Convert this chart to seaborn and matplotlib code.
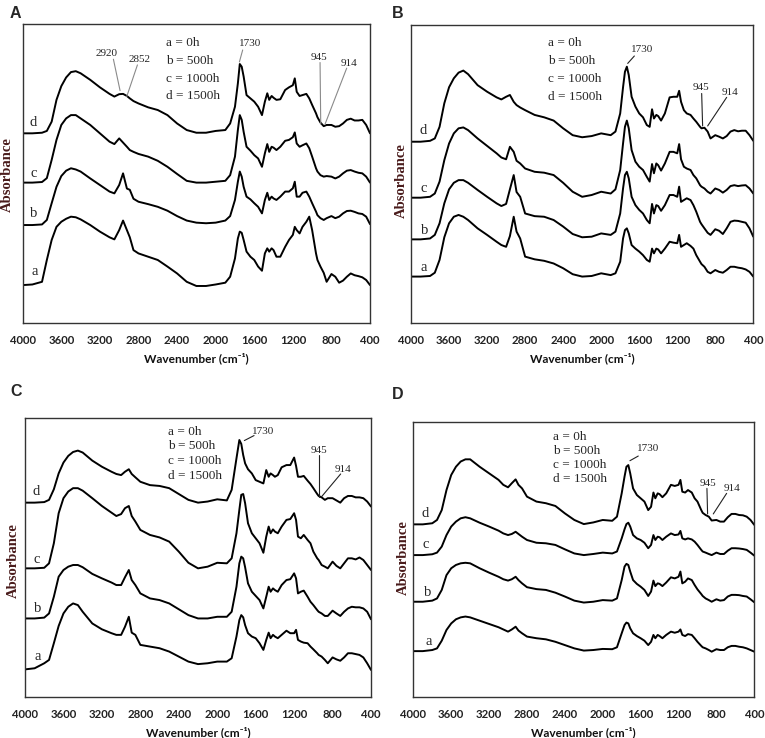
import pandas as pd
import matplotlib
matplotlib.use("Agg")
import matplotlib.pyplot as plt
import seaborn as sns

# shared wavenumber grid (cm-1), 4000 -> 400
WAVENUMBER = [4000, 3900, 3800, 3750, 3700, 3650, 3600, 3550, 3500, 3450,
              3400, 3300, 3200, 3100, 3050, 3000, 2960, 2920, 2890, 2852,
              2800, 2700, 2600, 2500, 2400, 2300, 2200, 2100, 2000, 1900,
              1850, 1800, 1770, 1750, 1730, 1710, 1680, 1640, 1600, 1560,
              1520, 1490, 1465, 1445, 1420, 1400, 1370, 1330, 1280, 1240,
              1200, 1180, 1160, 1130, 1100, 1060, 1030, 1000, 960, 945,
              914, 880, 850, 800, 760, 720, 680, 640, 600, 560,
              520, 480, 440, 400]

SAMPLES = ["a", "b", "c", "d"]
LEGEND_LINES = ["a = 0h", "b = 500h", "c = 1000h", "d = 1500h"]
PANELS = ["A", "B", "C", "D"]

# stacked absorbance (arbitrary units, offsets included)
A_a = [12.6, 12.8, 13.7, 21.0, 27.7, 32.1, 33.8, 34.8, 35.5, 35.3,
       34.6, 32.7, 30.5, 28.6, 27.9, 31.0, 34.2, 31.0, 28.6, 24.3,
       23.2, 22.1, 21.0, 18.8, 16.5, 13.7, 12.3, 12.3, 12.8, 13.4,
       15.4, 21.5, 28.2, 30.5, 30.1, 27.7, 23.8, 22.1, 21.0, 18.8,
       17.4, 23.2, 24.9, 23.8, 24.9, 24.3, 22.1, 22.1, 25.4, 27.7,
       29.4, 32.1, 31.0, 29.9, 32.1, 33.8, 35.5, 31.0, 23.2, 21.0,
       18.8, 16.7, 13.7, 16.3, 15.4, 13.4, 14.1, 15.4, 16.5, 15.9,
       15.6, 15.2, 14.3, 12.6]
A_b = [32.7, 32.7, 32.9, 34.4, 40.0, 45.5, 49.1, 50.9, 51.7, 51.3,
       50.6, 48.3, 46.1, 43.9, 43.3, 46.1, 50.0, 44.9, 44.5, 41.5,
       40.5, 39.7, 38.8, 37.5, 35.7, 34.2, 33.5, 33.3, 33.5, 34.2,
       35.7, 41.1, 47.2, 50.6, 48.9, 45.5, 42.2, 41.3, 40.0, 38.8,
       36.6, 41.1, 43.5, 41.1, 42.2, 41.6, 41.1, 42.2, 43.9, 43.9,
       45.0, 47.2, 42.2, 42.2, 43.5, 43.9, 42.2, 40.0, 37.2, 36.0,
       35.0, 34.4, 35.0, 35.7, 35.0, 35.5, 36.6, 37.4, 37.5, 37.1,
       36.6, 36.4, 35.5, 33.0]
A_c = [46.9, 46.9, 47.1, 48.4, 54.5, 61.2, 66.2, 68.4, 69.5, 69.5,
       68.4, 66.2, 63.4, 60.6, 59.8, 61.7, 60.3, 58.9, 57.8, 57.2,
       56.5, 55.6, 54.2, 52.2, 49.8, 47.5, 46.9, 46.9, 47.2, 47.5,
       49.4, 55.6, 64.5, 69.5, 67.9, 63.9, 58.9, 57.6, 56.1, 55.0,
       52.2, 56.7, 59.8, 57.2, 58.9, 58.6, 57.8, 58.9, 60.9, 61.2,
       62.1, 63.7, 60.0, 58.9, 59.4, 60.0, 58.4, 55.6, 51.7, 50.6,
       49.4, 48.9, 49.1, 48.9, 48.3, 48.9, 50.0, 50.9, 51.1, 50.6,
       50.2, 50.0, 48.9, 46.9]
A_d = [63.4, 63.4, 63.6, 64.2, 67.3, 74.6, 79.2, 82.1, 83.9, 84.2,
       83.5, 81.3, 78.8, 76.6, 75.7, 76.5, 76.6, 75.9, 75.1, 74.2,
       73.4, 72.1, 71.2, 69.5, 66.7, 64.5, 63.6, 63.6, 64.2, 64.5,
       66.7, 72.3, 80.1, 86.6, 85.7, 82.4, 76.2, 75.1, 74.0, 72.3,
       69.5, 74.0, 76.8, 74.6, 75.9, 75.3, 74.6, 74.8, 77.9, 78.8,
       79.5, 81.8, 77.3, 75.9, 76.2, 76.6, 75.1, 72.9, 70.1, 68.8,
       67.0, 65.8, 66.2, 66.2, 65.6, 65.8, 66.7, 67.9, 68.3, 67.7,
       67.7, 67.9, 66.2, 63.4]

B_a = [15.5, 15.5, 15.7, 16.8, 21.1, 28.7, 33.4, 35.6, 36.2, 35.6,
       34.5, 31.7, 29.5, 27.2, 26.1, 25.5, 29.1, 35.6, 30.6, 28.3,
       22.2, 21.3, 20.8, 19.9, 18.3, 16.3, 15.5, 15.7, 16.6, 16.0,
       16.6, 20.5, 28.3, 31.1, 31.7, 30.0, 26.1, 24.9, 23.9, 22.7,
       21.1, 20.5, 24.9, 23.3, 24.9, 24.6, 23.3, 24.9, 27.2, 26.9,
       26.7, 29.5, 25.5, 26.1, 26.7, 25.8, 24.9, 22.7, 20.5, 19.7,
       18.8, 17.1, 16.6, 17.7, 17.1, 16.8, 17.7, 18.8, 18.8, 18.5,
       18.3, 17.9, 17.1, 15.5]
B_b = [28.0, 28.0, 28.3, 29.5, 33.4, 40.1, 44.8, 47.0, 47.9, 47.9,
       47.0, 44.6, 42.3, 40.1, 39.2, 39.9, 44.8, 49.6, 43.9, 42.3,
       36.7, 35.8, 35.6, 34.5, 32.3, 29.8, 28.7, 28.9, 30.0, 29.5,
       30.6, 36.7, 45.1, 49.6, 50.7, 48.5, 42.3, 39.5, 37.9, 36.7,
       34.5, 33.4, 39.9, 36.7, 39.5, 39.2, 37.6, 39.5, 42.9, 42.9,
       42.3, 45.7, 40.6, 41.2, 41.8, 41.2, 39.5, 37.3, 33.9, 33.1,
       31.7, 30.2, 29.5, 31.4, 30.9, 29.8, 31.7, 33.9, 34.3, 34.2,
       33.9, 33.6, 31.7, 28.9]
B_c = [42.0, 42.0, 42.3, 43.4, 47.4, 54.6, 60.2, 63.6, 65.3, 65.6,
       64.7, 61.9, 59.4, 56.9, 55.5, 54.9, 59.1, 57.4, 54.4, 53.5,
       51.8, 50.7, 50.4, 49.6, 47.0, 44.0, 42.3, 42.9, 44.0, 43.4,
       44.8, 51.3, 60.2, 65.8, 67.9, 65.3, 58.0, 54.1, 52.4, 51.3,
       49.0, 47.4, 53.3, 50.2, 53.5, 52.9, 51.1, 53.5, 57.4, 57.4,
       56.9, 60.0, 54.9, 52.4, 51.8, 51.3, 49.6, 48.5, 46.2, 45.7,
       45.1, 44.0, 43.4, 45.1, 44.6, 43.7, 44.6, 45.9, 46.2, 45.9,
       46.1, 46.2, 45.1, 43.4]
B_d = [60.8, 60.8, 61.1, 61.9, 65.8, 73.7, 79.1, 82.1, 84.0, 84.7,
       83.5, 79.8, 77.6, 75.7, 75.0, 75.9, 76.5, 74.2, 73.1, 72.3,
       71.4, 69.8, 69.0, 67.9, 65.3, 63.0, 62.3, 62.7, 63.6, 63.0,
       64.2, 70.3, 79.1, 84.3, 86.0, 83.2, 75.9, 72.6, 70.3, 69.0,
       66.4, 65.8, 71.7, 68.6, 69.8, 69.4, 67.9, 70.3, 75.7, 75.9,
       75.9, 77.9, 74.2, 71.4, 70.3, 69.8, 68.6, 67.5, 65.8, 65.3,
       65.5, 64.2, 61.9, 63.0, 62.5, 61.9, 62.7, 64.2, 64.7, 64.3,
       64.5, 64.5, 63.0, 61.1]

C_a = [9.8, 10.2, 12.0, 13.2, 19.2, 25.4, 29.9, 32.3, 33.5, 32.9,
       30.5, 26.3, 24.2, 22.8, 22.2, 22.2, 25.1, 28.7, 23.0, 22.2,
       18.6, 18.0, 17.4, 16.2, 14.4, 12.6, 11.7, 12.0, 12.6, 12.6,
       13.8, 21.6, 27.5, 29.3, 28.5, 25.7, 22.8, 21.6, 21.0, 19.2,
       16.8, 20.4, 23.0, 21.0, 22.2, 21.6, 21.0, 22.2, 23.7, 22.8,
       22.8, 24.0, 20.4, 19.8, 19.4, 19.2, 18.0, 17.0, 15.6, 15.0,
       14.4, 13.2, 12.0, 14.1, 13.4, 12.9, 14.1, 15.6, 15.6, 15.3,
       15.0, 14.1, 12.0, 9.6]
C_b = [28.1, 28.1, 28.4, 29.9, 35.9, 43.1, 45.5, 46.7, 47.3, 47.3,
       46.5, 44.1, 42.5, 41.0, 40.1, 40.1, 42.9, 45.5, 41.9, 40.1,
       37.1, 35.3, 34.7, 33.5, 31.4, 29.3, 28.1, 28.1, 28.7, 28.7,
       30.5, 39.5, 47.9, 50.3, 49.7, 46.5, 40.7, 37.7, 36.2, 34.7,
       31.7, 35.9, 39.5, 37.7, 38.9, 38.3, 37.7, 40.1, 41.9, 42.2,
       44.3, 42.5, 37.1, 37.7, 38.1, 35.9, 34.1, 32.9, 31.1, 30.5,
       29.9, 29.0, 29.0, 30.9, 29.9, 29.0, 30.5, 31.7, 32.3, 32.1,
       32.1, 31.7, 30.5, 27.8]
C_c = [46.1, 46.1, 46.3, 47.9, 55.1, 65.9, 71.3, 73.7, 74.9, 74.9,
       74.0, 71.3, 68.5, 66.1, 64.9, 65.6, 67.7, 68.5, 64.9, 62.9,
       59.9, 58.1, 57.2, 55.7, 52.1, 48.1, 46.1, 46.7, 48.1, 47.9,
       49.7, 58.7, 67.1, 72.5, 72.8, 69.5, 62.3, 58.7, 56.9, 55.1,
       51.7, 57.5, 61.1, 58.7, 60.1, 59.3, 58.7, 61.1, 63.5, 63.8,
       65.9, 63.5, 57.5, 56.9, 58.1, 56.3, 55.1, 52.1, 49.7, 49.1,
       47.3, 46.7, 46.1, 48.5, 47.0, 46.1, 47.9, 49.7, 49.7, 49.3,
       50.0, 49.1, 47.3, 45.5]
C_d = [69.7, 69.7, 69.9, 70.7, 74.5, 80.2, 84.1, 86.5, 87.9, 88.4,
       87.7, 84.8, 82.6, 80.8, 80.0, 79.6, 80.8, 81.7, 80.0, 78.8,
       77.2, 76.0, 75.7, 74.9, 72.8, 70.7, 69.7, 70.1, 70.9, 70.5,
       74.3, 85.6, 92.2, 90.8, 86.8, 83.8, 81.7, 80.2, 77.8, 77.2,
       76.6, 81.4, 79.0, 80.2, 79.6, 79.0, 79.6, 82.4, 83.2, 83.2,
       85.9, 82.9, 79.0, 79.0, 79.3, 77.6, 76.4, 74.9, 72.8, 72.1,
       71.6, 70.7, 71.3, 71.3, 70.5, 69.7, 71.3, 72.1, 72.1, 71.6,
       71.6, 71.3, 70.1, 68.3]

D_a = [16.6, 16.6, 17.0, 17.6, 20.4, 24.3, 26.7, 28.2, 28.9, 29.2,
       28.9, 27.7, 26.5, 25.3, 24.5, 23.7, 24.5, 25.5, 24.1, 23.1,
       21.9, 21.3, 20.9, 20.0, 18.8, 17.6, 16.8, 17.0, 17.4, 17.3,
       18.0, 23.1, 26.1, 27.0, 26.7, 24.9, 23.1, 22.1, 21.3, 20.4,
       18.8, 20.0, 22.5, 21.3, 22.5, 22.1, 21.3, 22.5, 23.7, 23.3,
       23.7, 24.5, 22.5, 22.1, 22.8, 22.5, 21.3, 20.0, 18.5, 18.0,
       17.6, 17.0, 16.4, 17.3, 17.0, 17.0, 18.0, 18.5, 18.5, 18.2,
       18.0, 17.6, 17.0, 16.4]
D_b = [34.6, 34.6, 35.0, 35.8, 38.9, 44.3, 46.8, 48.0, 48.6, 48.8,
       48.6, 46.8, 45.2, 43.7, 42.8, 42.3, 42.8, 43.7, 42.5, 41.3,
       39.9, 39.2, 38.9, 37.9, 36.5, 35.0, 34.3, 34.6, 35.2, 35.0,
       35.8, 42.5, 47.4, 48.4, 48.0, 45.6, 42.5, 41.1, 40.1, 38.9,
       36.7, 38.3, 42.3, 40.3, 41.3, 41.1, 40.3, 41.6, 43.5, 43.1,
       43.7, 45.6, 41.3, 41.9, 43.1, 42.5, 40.7, 39.1, 37.4, 36.7,
       35.8, 35.2, 34.6, 35.5, 35.0, 35.2, 36.5, 37.1, 37.1, 37.0,
       36.7, 36.5, 35.5, 34.4]
D_c = [51.6, 51.6, 51.9, 52.5, 54.7, 58.9, 62.0, 63.8, 65.0, 65.4,
       65.0, 63.4, 62.0, 60.5, 59.5, 58.9, 59.3, 60.1, 59.3, 58.3,
       57.1, 56.1, 55.9, 55.3, 53.7, 52.2, 51.6, 52.0, 52.5, 52.2,
       52.9, 57.7, 61.0, 62.9, 63.4, 62.0, 58.9, 57.7, 57.1, 56.1,
       54.1, 55.3, 58.9, 57.1, 58.3, 58.1, 57.1, 58.3, 59.5, 58.9,
       59.1, 60.4, 57.7, 57.3, 57.7, 57.3, 56.5, 55.3, 53.5, 52.9,
       52.5, 52.0, 51.6, 52.5, 52.0, 52.0, 53.2, 54.1, 54.1, 54.0,
       53.8, 53.5, 52.5, 51.4]
D_d = [62.8, 62.8, 63.2, 64.4, 68.0, 75.3, 80.8, 83.8, 85.7, 86.5,
       86.5, 83.8, 81.4, 79.0, 77.2, 76.3, 77.8, 79.2, 77.2, 75.9,
       72.9, 71.1, 70.5, 69.5, 66.8, 64.4, 62.9, 63.5, 64.4, 64.1,
       65.6, 74.1, 80.2, 83.8, 84.4, 81.4, 75.9, 73.5, 72.3, 71.1,
       68.0, 69.2, 74.4, 72.3, 74.1, 73.8, 72.7, 74.1, 77.2, 76.8,
       77.2, 79.0, 74.7, 74.4, 75.3, 74.4, 72.3, 71.1, 68.0, 67.0,
       66.2, 65.6, 64.2, 64.4, 63.8, 63.8, 65.4, 66.6, 66.6, 66.2,
       66.1, 65.6, 64.4, 62.6]

SPECTRA = {
    "A": [A_a, A_b, A_c, A_d],
    "B": [B_a, B_b, B_c, B_d],
    "C": [C_a, C_b, C_c, C_d],
    "D": [D_a, D_b, D_c, D_d],
}

# layout (figure fractions) and text placement per panel
AX_RECT = {
    "A": [0.0297, 0.5627, 0.4540, 0.4048],
    "B": [0.5373, 0.5627, 0.4474, 0.4034],
    "C": [0.0327, 0.0560, 0.4523, 0.3772],
    "D": [0.5403, 0.0560, 0.4457, 0.3718],
}
LETTER_POS = {"A": (0.013, 0.982), "B": (0.512, 0.982),
              "C": (0.013, 0.469), "D": (0.512, 0.466)}
YLABEL_POS = {"A": (0.010, 0.764), "B": (0.524, 0.756),
              "C": (0.017, 0.241), "D": (0.527, 0.244)}
# legend block: x, first line y, line step
LEGEND_POS = {"A": (2514, 93.5, 5.9), "B": (2556, 93.8, 5.95),
              "C": (2509, 95.2, 5.3), "D": (2529, 94.8, 5.1)}
# curve letters a, b, c, d
CURVE_LABELS = {
    "A": [(3872, 17.1), (3889, 36.6), (3889, 50.0), (3896, 67.0)],
    "B": [(3870, 18.5), (3860, 30.9), (3870, 45.1), (3870, 64.7)],
    "C": [(3872, 14.6), (3872, 31.5), (3879, 49.1), (3886, 73.7)],
    "D": [(3842, 20.0), (3849, 37.9), (3870, 55.3), (3877, 66.8)],
}
# peak marks: text, text pos, line start, line end
PEAK_MARKS = {
    "A": [("2920", (3136, 90.2), (3060, 88.2), (2991, 77.7)),
          ("2852", (2791, 88.2), (2811, 86.3), (2922, 75.7)),
          ("1730", (1644, 93.5), (1720, 91.3), (1754, 87.3)),
          ("945", (925, 88.8), (918, 87.1), (911, 66.5)),
          ("914", (614, 86.8), (642, 85.2), (866, 66.5))],
    "B": [("1730", (1574, 91.8), (1651, 89.6), (1721, 87.1)),
          ("945", (950, 79.1), (943, 77.0), (933, 66.1)),
          ("914", (645, 77.3), (680, 75.7), (880, 66.1))],
    "C": [("1730", (1520, 95.2), (1617, 93.8), (1718, 92.0)),
          ("945", (938, 88.6), (938, 86.8), (938, 71.9)),
          ("914", (688, 81.7), (716, 80.0), (913, 71.9))],
    "D": [("1730", (1526, 90.5), (1625, 87.7), (1713, 86.0)),
          ("945", (893, 77.8), (900, 75.9), (893, 66.6)),
          ("914", (632, 75.9), (692, 74.1), (833, 66.6))],
}
LEADER_COLOR = {"A": "#8a8a8a", "B": "#222222", "C": "#222222", "D": "#222222"}

sns.set_style("white")
plt.rcParams["font.family"] = ["Liberation Serif", "DejaVu Serif"]

fig = plt.figure(figsize=(7.65, 7.38), dpi=100)

for panel in PANELS:
    frames = []
    for name, values in zip(SAMPLES, SPECTRA[panel]):
        frames.append(pd.DataFrame({"wavenumber": WAVENUMBER,
                                    "absorbance": values,
                                    "sample": name}))
    df = pd.concat(frames, ignore_index=True)

    ax = fig.add_axes(AX_RECT[panel])
    sns.lineplot(data=df, x="wavenumber", y="absorbance", units="sample",
                 estimator=None, color="black", linewidth=1.4, ax=ax)
    ax.set_xlim(4000, 400)
    ax.set_ylim(0, 100)
    ax.set_xticks(range(4000, 399, -400))
    ax.set_yticks([])
    ax.set_ylabel("")
    ax.tick_params(axis="x", direction="out", length=2.4, width=0.8,
                   pad=6.3, colors="#222222", labelsize=8.2)
    for lab in ax.get_xticklabels():
        lab.set_fontfamily(["Lato", "DejaVu Sans"])
        lab.set_fontweight("bold")
    ax.set_xlabel("Wavenumber (cm\u207b\u00b9)", fontsize=8.6,
                  fontweight="bold", family=["Lato", "DejaVu Sans"],
                  labelpad=4.5, color="#111111")
    for sp in ax.spines.values():
        sp.set_visible(True)
        sp.set_color("#333333")
        sp.set_linewidth(1.0)

    # legend block
    lx, ly, step = LEGEND_POS[panel]
    for i, line in enumerate(LEGEND_LINES):
        ax.text(lx, ly - i * step, line, fontsize=9.5, ha="left", va="center")

    # curve letters
    for name, (x, y) in zip(SAMPLES, CURVE_LABELS[panel]):
        ax.text(x, y, name, fontsize=10.5, ha="center", va="center")

    # peak marks
    for text, tpos, p0, p1 in PEAK_MARKS[panel]:
        ax.text(tpos[0], tpos[1], text, fontsize=8, ha="center",
                va="center")
        ax.plot([p0[0], p1[0]], [p0[1], p1[1]],
                color=LEADER_COLOR[panel], linewidth=0.8)

    fig.text(*LETTER_POS[panel], panel, fontsize=11.5, fontweight="bold",
             family=["Liberation Sans", "DejaVu Sans"],
             ha="left", va="center")
    fig.text(*YLABEL_POS[panel], "Absorbance", rotation=90, fontsize=10.5,
             fontweight="bold", color="#4a1c1c", ha="center", va="center")

fig.savefig("out.png", dpi=100)
